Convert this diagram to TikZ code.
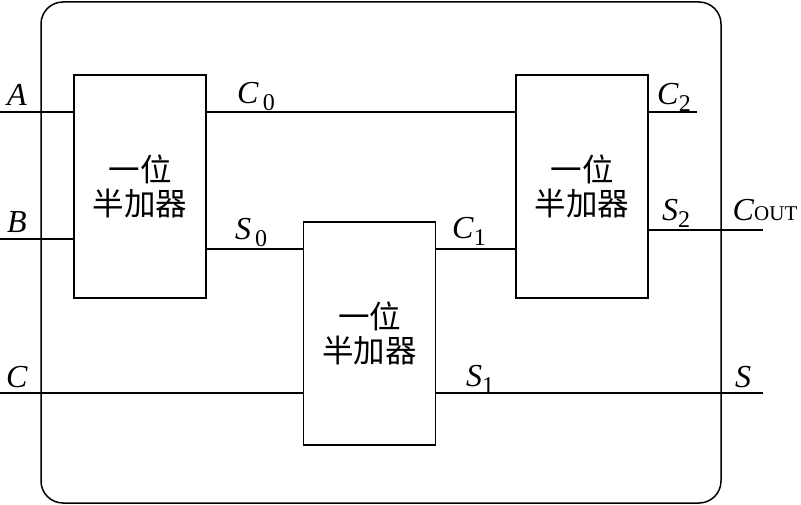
\documentclass[tikz,border=0pt]{standalone}
\usepackage{fontspec}
\setmainfont{Liberation Serif}
\newfontfamily\cjk{Noto Sans CJK SC}
\newcommand\sig[3][0pt]{\textit{#2}\hspace{#1}\raisebox{-7pt}{\fontsize{24}{24}\selectfont #3}}
\begin{document}
\begin{tikzpicture}[x=1pt,y=-1pt,
  wire/.style={line width=1.5pt},
  ha/.style={draw,line width=1.5pt,minimum width=132pt,minimum height=223pt,
    align=center,font=\cjk\fontsize{31.5}{34}\selectfont},
  lab/.style={font=\fontsize{32}{32}\selectfont,inner sep=0pt}]
\useasboundingbox (0,0) rectangle (801,505);
\draw[line width=1.5pt,rounded corners=22pt] (41,2) rectangle (721,503);
\node[ha] (h1) at (140,186.5) {一位\\半加器};
\node[ha] (h2) at (369.5,333.5) {一位\\半加器};
\node[ha] (h3) at (582,186.5) {一位\\半加器};
\coordinate (a) at (0,112);
\coordinate (b) at (0,239);
\coordinate (c) at (0,393);
\coordinate (s) at (763,393);
\coordinate (c2) at (697,112);
\coordinate (cout) at (763,230);
\draw[wire] (a) -- (a -| h1.west);
\draw[wire] (b) -- (b -| h1.west);
\draw[wire] (h1.east |- a) -- (h3.west |- a);
\draw[wire] (h1.east |- 0,249) -- (h2.west |- 0,249);
\draw[wire] (h2.east |- 0,249) -- (h3.west |- 0,249);
\draw[wire] (c) -- (c -| h2.west);
\draw[wire] (h2.east |- s) -- (s);
\draw[wire] (h3.east |- c2) -- (c2);
\draw[wire] (h3.east |- cout) -- (cout);
\node[lab] (la) at (17,95) {\textit{A}};
\node[lab] (lb) at (17,222) {\textit{B}};
\node[lab] (lc) at (17,377) {\textit{C}};
\node[lab] (lc0) at (256,97) {\sig[4pt]{C}{0}};
\node[lab] (ls0) at (251,233) {\sig[4pt]{S}{0}};
\node[lab] (lc1) at (469,231) {\sig{C}{1}};
\node[lab] (ls1) at (480,379) {\sig{S}{1}};
\node[lab] (lc2) at (674,97) {\sig{C}{2}};
\node[lab] (ls2) at (676,213) {\sig{S}{2}};
\node[lab] (ls) at (743,377) {\textit{S}};
\node[lab] (lcout) at (765,210) {\textit{C}{\fontsize{21}{21}\selectfont OUT}};
\end{tikzpicture}
\end{document}
